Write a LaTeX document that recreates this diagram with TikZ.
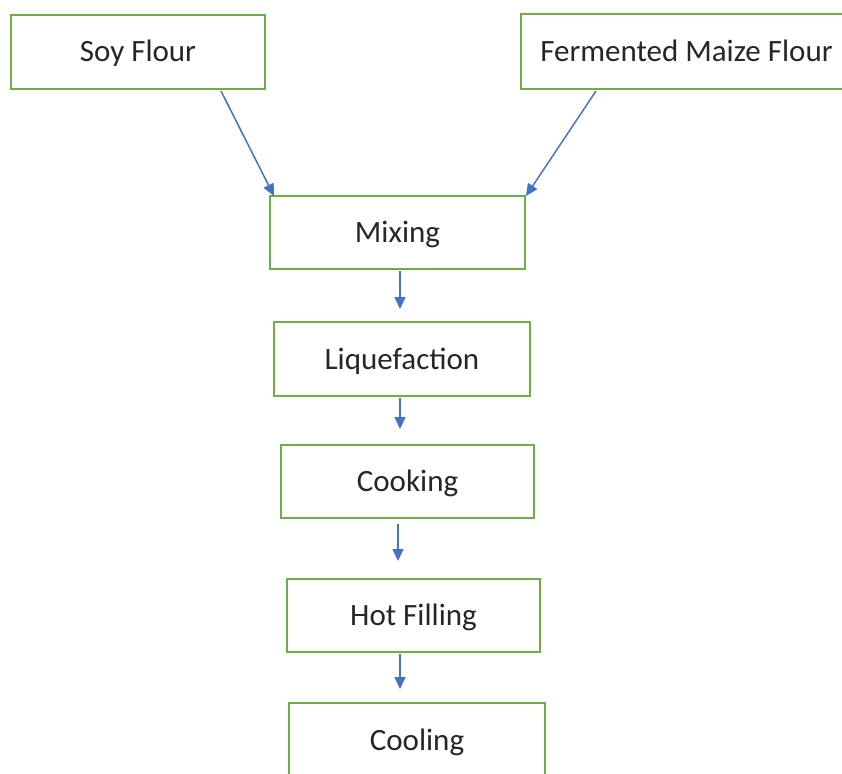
\documentclass[tikz,border=0pt]{standalone}
\usepackage{fontspec}
\setmainfont{Carlito}
\usetikzlibrary{calc,arrows.meta}
\definecolor{boxgreen}{HTML}{70AD47}
\definecolor{arrblue}{HTML}{4472C4}
\definecolor{txt}{HTML}{262626}
\begin{document}
\begin{tikzpicture}[x=1pt,y=-1pt,
  stepbox/.style={draw=boxgreen,line width=2pt,fill=white,rectangle,inner sep=0pt,
    text=txt,font=\fontsize{31}{37}\selectfont,text height=20pt,text depth=0pt},
  arr/.style={draw=arrblue,line width=1.5pt,-{Triangle[length=12pt,width=11pt]}}]
\useasboundingbox (0,0) rectangle (842,773);
\clip (0,0) rectangle (842,773);
\node[stepbox,minimum width=254pt,minimum height=74pt] (soy) at (138,52) {Soy Flour};
\node[stepbox,minimum width=331pt,minimum height=75pt] (maize) at (686.5,51.5) {Fermented Maize Flour};
\node[stepbox,minimum width=255pt,minimum height=73pt] (mix) at (397.5,232.5) {Mixing};
\node[stepbox,minimum width=256pt,minimum height=74pt] (liq) at (402,359) {Liquefaction};
\node[stepbox,minimum width=253pt,minimum height=73pt] (cook) at (407.5,481.5) {Cooking};
\node[stepbox,minimum width=253pt,minimum height=73pt] (hot) at (413.5,615.5) {Hot Filling};
\node[stepbox,minimum width=256pt,minimum height=74pt] (cool) at (417,740) {Cooling};
\draw[arr] ($(soy.south west)+(211,1)$) -- ($(mix.north west)+(5,1)$);
\draw[arr] ($(maize.south west)+(76,1)$) -- ($(mix.north east)+(0,1)$);
\draw[arr] ($(mix.south)+(2.5,1)$) -- ($(liq.north)+(-2,-12)$);
\draw[arr] ($(liq.south)+(-2,1)$) -- ($(cook.north)+(-7.5,-15)$);
\draw[arr] ($(cook.south)+(-9.5,5)$) -- ($(hot.north)+(-15.5,-17)$);
\draw[arr] ($(hot.south)+(-13.5,1)$) -- ($(cool.north)+(-17,-13)$);
\end{tikzpicture}
\end{document}
